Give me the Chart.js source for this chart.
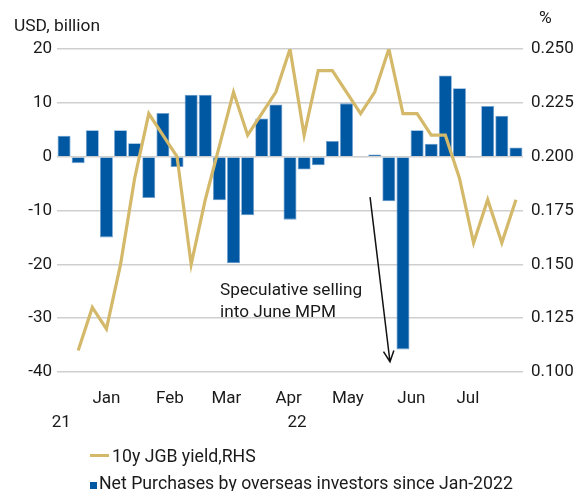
<!DOCTYPE html>
<html>
<head>
<meta charset="utf-8">
<script src="https://cdn.jsdelivr.net/npm/chart.js@4.4.1/dist/chart.umd.min.js"></script>
<style>
  body { margin: 0; background: #fff; }
  #wrap { position: relative; width: 576px; height: 491px; }
</style>
</head>
<body>
<div id="wrap"><canvas id="chart"></canvas></div>
<script>
// weekly data, week ending
const weeks = ['2021-12-10', '2021-12-17', '2021-12-24', '2021-12-31', '2022-01-07', '2022-01-14', '2022-01-21',
  '2022-01-28', '2022-02-04', '2022-02-11', '2022-02-18', '2022-02-25', '2022-03-04', '2022-03-11', '2022-03-18',
  '2022-03-25', '2022-04-01', '2022-04-08', '2022-04-15', '2022-04-22', '2022-04-29', '2022-05-06', '2022-05-13',
  '2022-05-20', '2022-05-27', '2022-06-03', '2022-06-10', '2022-06-17', '2022-06-24', '2022-07-01', '2022-07-08',
  '2022-07-15', '2022-07-22'];

// Net purchases by overseas investors, USD bn
const netPurchases = [3.9, -1.2, 4.9, -15.0, 4.9, 2.5, -7.7, 8.1, -1.9, 11.5, 11.5, -8.1, -19.8, -10.9, 7.1, 9.7,
  -11.7, -2.4, -1.6, 2.9, 9.9, -0.2, 0.4, -8.3, -35.8, 4.9, 2.4, 15.1, 12.7, -0.1, 9.4, 7.6, 1.7];

// 10y JGB yield, %
const jgbYield = [null, 0.110, 0.130, 0.120, 0.150, 0.190, 0.220, 0.210, 0.200, 0.150, 0.180, 0.205, 0.230, 0.210,
  0.220, 0.230, 0.250, 0.210, 0.240, 0.240, 0.230, 0.220, 0.230, 0.250, 0.220, 0.220, 0.210, 0.210, 0.190, 0.160,
  0.180, 0.160, 0.180];

// axis tick labels (positions in week index)
const monthLabels = ['Jan', 'Feb', 'Mar', 'Apr', 'May', 'Jun', 'Jul'];
const monthPos = [3, 7.5, 11.5, 15.9, 20.1, 24.6, 28.6];
const yearLabels = ['21', '22'];
const yearPos = [-0.2, 16.5];

// annotation
const noteLines = ['Speculative selling', 'into June MPM'];
const noteAt = { x: 11.05, y: -25.7, step: -4.1 };
const arrowFrom = { x: 21.67, y: -7.5 };
const arrowTo = { x: 23.08, y: -38.1 };

const FONT = 'Roboto, "Noto Sans", sans-serif';
const BLUE = '#0057A2';
const GOLD = '#D4B96A';
const TEXT = '#1a1a1a';
const tickFont = { family: FONT, size: 17 };

const extras = {
    id: 'extras',
    afterDraw(chart) {
        const ctx = chart.ctx;
        const xs = chart.scales.x;
        const ys = chart.scales.y;
        ctx.save();
        ctx.fillStyle = TEXT;
        ctx.font = '17.4px ' + FONT;
        ctx.textBaseline = 'alphabetic';

        // axis units
        ctx.textAlign = 'left';
        ctx.fillText('USD, billion', 14, 31);
        ctx.fillText('%', 539, 23);

        // annotation text
        ctx.font = '17.2px ' + FONT;
        const tx = xs.getPixelForValue(noteAt.x);
        noteLines.forEach((t, i) => {
            ctx.fillText(t, tx, ys.getPixelForValue(noteAt.y + i * noteAt.step));
        });

        // arrow
        const x1 = xs.getPixelForValue(arrowFrom.x), y1 = ys.getPixelForValue(arrowFrom.y);
        const x2 = xs.getPixelForValue(arrowTo.x), y2 = ys.getPixelForValue(arrowTo.y);
        const ang = Math.atan2(y2 - y1, x2 - x1);
        ctx.strokeStyle = '#111';
        ctx.lineWidth = 1.5;
        ctx.beginPath();
        ctx.moveTo(x1, y1);
        ctx.lineTo(x2, y2);
        ctx.moveTo(x2 - 12 * Math.cos(ang - 0.45), y2 - 12 * Math.sin(ang - 0.45));
        ctx.lineTo(x2, y2);
        ctx.lineTo(x2 - 12 * Math.cos(ang + 0.45), y2 - 12 * Math.sin(ang + 0.45));
        ctx.stroke();

        // legend
        const ds = chart.data.datasets;
        ctx.font = '17.7px ' + FONT;
        ctx.strokeStyle = ds[0].borderColor;
        ctx.lineWidth = 3;
        ctx.beginPath();
        ctx.moveTo(90, 455.5);
        ctx.lineTo(109, 455.5);
        ctx.stroke();
        ctx.fillText(ds[0].label, 112, 462);
        ctx.fillStyle = ds[1].backgroundColor;
        ctx.fillRect(90, 482, 7, 7);
        ctx.fillStyle = TEXT;
        ctx.fillText(ds[1].label, 99, 489);
        ctx.restore();
    }
};

const customTicks = (pos, labels, pad) => ({
    afterBuildTicks: axis => { axis.ticks = pos.map(v => ({ value: v })); },
    ticks: { autoSkip: false, maxRotation: 0, padding: pad, color: TEXT, font: tickFont,
        callback: (v, i) => labels[i] }
});

new Chart(document.getElementById('chart'), {
    data: {
        labels: weeks,
        datasets: [{
            type: 'line',
            label: '10y JGB yield,RHS',
            data: jgbYield,
            yAxisID: 'y2',
            borderColor: GOLD,
            borderWidth: 3.2,
            pointRadius: 0,
            tension: 0
        }, {
            type: 'bar',
            label: 'Net Purchases by overseas investors since Jan-2022',
            data: netPurchases,
            yAxisID: 'y',
            backgroundColor: BLUE,
            borderColor: '#6f9fd0',
            borderWidth: 0.8,
            barPercentage: 0.92,
            categoryPercentage: 1
        }]
    },
    options: {
        responsive: true,
        maintainAspectRatio: false,
        animation: false,
        layout: { padding: { top: 49, bottom: 55, left: 0, right: 0 } },
        plugins: { legend: { display: false }, tooltip: { enabled: false } },
        scales: {
            x: { display: false, offset: true },
            months: {
                type: 'linear', position: 'bottom', weight: 1,
                min: -0.5, max: 32.5,
                grid: { display: false, drawTicks: false }, border: { display: false },
                ...customTicks(monthPos, monthLabels, 17),
                afterFit: s => { s.height = 40; }
            },
            years: {
                type: 'linear', position: 'bottom', weight: 2,
                min: -0.5, max: 32.5,
                grid: { display: false, drawTicks: false }, border: { display: false },
                ...customTicks(yearPos, yearLabels, 1),
                afterFit: s => { s.height = 24; }
            },
            y: {
                position: 'left',
                min: -40, max: 20,
                ticks: { stepSize: 10, padding: 5, color: TEXT, font: tickFont },
                grid: { color: '#cfcfcf', lineWidth: 1.5, drawTicks: false },
                border: { display: false },
                afterFit: s => { s.width = 57; }
            },
            y2: {
                position: 'right',
                min: 0.1, max: 0.25,
                ticks: { stepSize: 0.025, padding: 8, color: TEXT, font: tickFont,
                    callback: v => v.toFixed(3) },
                grid: { display: false, drawTicks: false },
                border: { display: false },
                afterFit: s => { s.width = 53; }
            }
        }
    },
    plugins: [extras]
});
</script>
</body>
</html>
